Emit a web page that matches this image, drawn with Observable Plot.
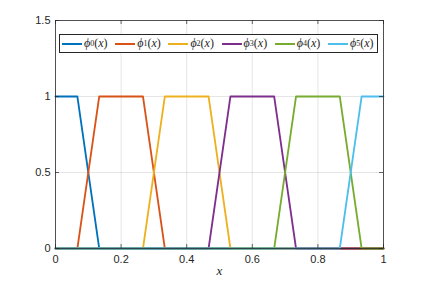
<!DOCTYPE html>
<html><head><meta charset="utf-8">
<script src="https://cdn.jsdelivr.net/npm/d3@7"></script>
<script src="https://cdn.jsdelivr.net/npm/@observablehq/plot@0.6"></script>
<style>
body{margin:0;background:#fff;}
#wrap{position:relative;width:424px;height:283px;}
#legend{position:absolute;left:59px;top:34px;width:317px;height:17px;border:1px solid #262626;background:#fff;font-family:"Liberation Serif",serif;font-size:12px;color:#262626;}
.ent{position:absolute;top:0;height:17px;display:flex;align-items:center;white-space:nowrap;}
.sw{display:inline-block;width:20px;height:2px;margin-right:2px;}
i{font-style:italic;}
sub{font-size:8px;vertical-align:-2px;}
</style></head>
<body><div id="wrap"><div id="chart"></div><div id="legend"></div></div>
<script>
const seriesNames = ["ϕ0","ϕ1","ϕ2","ϕ3","ϕ4","ϕ5"];
const colors = ["#0072BD","#D95319","#EDB120","#7E2F8E","#77AC30","#4DBEEE"];
const phi0x = [0, 0.0667, 0.1333, 1];           const phi0y = [1, 1, 0, 0];
const phi1x = [0, 0.0667, 0.1333, 0.2667, 0.3333, 1]; const phi1y = [0, 0, 1, 1, 0, 0];
const phi2x = [0, 0.2667, 0.3333, 0.4667, 0.5333, 1]; const phi2y = [0, 0, 1, 1, 0, 0];
const phi3x = [0, 0.4667, 0.5333, 0.6667, 0.7333, 1]; const phi3y = [0, 0, 1, 1, 0, 0];
const phi4x = [0, 0.6667, 0.7333, 0.8667, 0.9333, 1]; const phi4y = [0, 0, 1, 1, 0, 0];
const phi5x = [0, 0.8667, 0.9333, 1];           const phi5y = [0, 0, 1, 1];
const xTicks = [0, 0.2, 0.4, 0.6, 0.8, 1];
const xTickLabels = ["0","0.2","0.4","0.6","0.8","1"];
const yTicks = [0, 0.5, 1, 1.5];
const yTickLabels = ["0","0.5","1","1.5"];
const xLabel = "x";

const allX = [phi0x,phi1x,phi2x,phi3x,phi4x,phi5x];
const allY = [phi0y,phi1y,phi2y,phi3y,phi4y,phi5y];
const data = [];
allX.forEach((xs,i)=>xs.forEach((x,j)=>data.push({s:i,x,y:allY[i][j]})));

const W=424,H=283,mL=55,mR=41,mT=20,mB=35;
const fh = H-mT-mB, fw = W-mL-mR;
const axisColor="#262626";
const chart = Plot.plot({
  width:W,height:H,marginLeft:mL,marginRight:mR,marginTop:mT,marginBottom:mB,
  style:{fontFamily:"'Liberation Sans',Arial,sans-serif",fontSize:"11px",color:axisColor,background:"#fff"},
  x:{domain:[0,1]},
  y:{domain:[0,1.5]},
  marks:[
    Plot.gridX(xTicks.slice(1,-1),{stroke:"#262626",strokeOpacity:0.12}),
    Plot.gridY(yTicks.slice(1,-1),{stroke:"#262626",strokeOpacity:0.12}),
    ...allX.map((xs,i)=>Plot.line(data.filter(d=>d.s===i),{x:"x",y:"y",stroke:colors[i],strokeWidth:1.8,strokeLinejoin:"round"})),
    Plot.tickX(xTicks,{x:d=>d,insetTop:fh-4,stroke:axisColor,strokeWidth:0.7}),
    Plot.tickX(xTicks,{x:d=>d,insetBottom:fh-4,stroke:axisColor,strokeWidth:0.7}),
    Plot.tickY(yTicks,{y:d=>d,insetRight:fw-4,stroke:axisColor,strokeWidth:0.7}),
    Plot.tickY(yTicks,{y:d=>d,insetLeft:fw-4,stroke:axisColor,strokeWidth:0.7}),
    Plot.frame({stroke:axisColor,strokeWidth:0.8}),
    Plot.axisX(xTicks,{tickSize:0,tickPadding:7,tickFormat:(d,i)=>xTickLabels[i],label:null}),
    Plot.axisY(yTicks,{tickSize:0,tickPadding:5,tickFormat:(d,i)=>yTickLabels[i],label:null}),
    Plot.text([xLabel],{frameAnchor:"bottom",dy:26,text:d=>d,fontStyle:"italic",fontFamily:"'Liberation Serif',serif",fontSize:13,fill:axisColor})
  ]
});
document.getElementById("chart").appendChild(chart);

const lg = document.getElementById("legend");
seriesNames.forEach((n,i)=>{
  const e=document.createElement("div");
  e.className="ent";
  e.style.left=(2+53.2*i)+"px";
  e.innerHTML=`<span class="sw" style="background:${colors[i]}"></span><i>${n[0]}</i><sub>${n.slice(1)}</sub>(<i>x</i>)`;
  lg.appendChild(e);
});
</script></body></html>
